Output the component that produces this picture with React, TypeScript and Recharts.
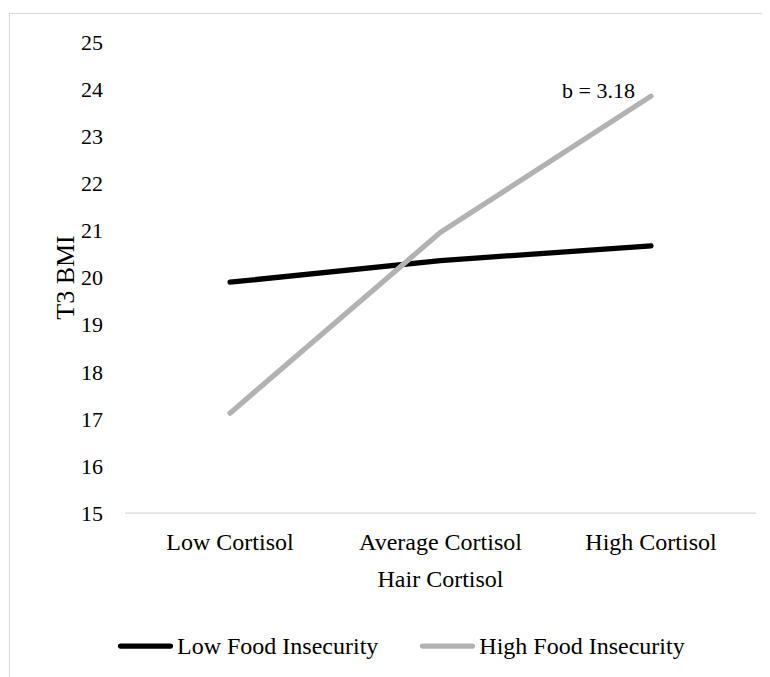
import React from 'react';
import { LineChart, Line, XAxis, YAxis, Legend, LabelList } from 'recharts';

const categories = ['Low Cortisol', 'Average Cortisol', 'High Cortisol'];
const lowFoodInsecurity = [19.9, 20.36, 20.67];
const highFoodInsecurity = [17.12, 20.96, 23.85];
const yTicks = [15, 16, 17, 18, 19, 20, 21, 22, 23, 24, 25];
const slopeNote = 'b = 3.18';

const data = categories.map((c, i) => ({
  name: c,
  low: lowFoodInsecurity[i],
  high: highFoodInsecurity[i],
}));

const FONT = '"Liberation Serif", "Times New Roman", serif';
const GRAY = '#b2b2b2';

const legendItems = [
  { label: 'Low Food Insecurity', color: '#000000' },
  { label: 'High Food Insecurity', color: GRAY },
];

function LegendContent() {
  return (
    <div style={{ display: 'flex', alignItems: 'center', height: 30, paddingLeft: 108, fontFamily: FONT, fontSize: 24, color: '#000' }}>
      {legendItems.map((it, i) => (
        <div key={it.label} style={{ display: 'flex', alignItems: 'center', marginRight: i === 0 ? 42 : 0 }}>
          <svg width={55} height={10}>
            <line x1={2.5} y1={5} x2={52.5} y2={5} stroke={it.color} strokeWidth={5.25} strokeLinecap="round" />
          </svg>
          <span style={{ marginLeft: 4, whiteSpace: 'nowrap' }}>{it.label}</span>
        </div>
      ))}
    </div>
  );
}

const SlopeLabel = (props: any) => {
  const { x, y, index } = props;
  if (index !== categories.length - 1) return null;
  return (
    <text x={x - 16} y={y + 2} textAnchor="end" fontFamily={FONT} fontSize={22} fill="#000">
      {slopeNote}
    </text>
  );
};

export default function App() {
  return (
    <>
      <style>{'html, body { overflow: hidden; }'}</style>
      <div style={{ position: 'relative', top: 5, left: 1, width: 761, height: 680, overflow: 'hidden' }}>
        <div style={{ width: 800, height: 720, border: '1px solid #d9d9d9', position: 'relative' }}>
          <LineChart width={760} height={660} data={data} margin={{ top: 28, right: 14, left: 0, bottom: 91 }}>
            <XAxis
              dataKey="name"
              padding={{ left: 105, right: 105 }}
              axisLine={{ stroke: '#d9d9d9', strokeWidth: 1.25 }}
              tickLine={false}
              tickSize={6}
              tickMargin={14}
              height={40}
              tick={{ fill: '#000', fontSize: 24, fontFamily: FONT }}
              label={{ value: 'Hair Cortisol', position: 'bottom', offset: 17, fill: '#000', fontSize: 24, fontFamily: FONT }}
            />
            <YAxis
              domain={[15, 25]}
              ticks={yTicks}
              width={115}
              axisLine={false}
              tickLine={false}
              tickSize={6}
              tickMargin={16}
              tick={{ fill: '#000', fontSize: 22, fontFamily: FONT }}
              label={{ value: 'T3 BMI', angle: -90, position: 'insideLeft', offset: 55, fill: '#000', fontSize: 26, fontFamily: FONT, style: { textAnchor: 'middle' } }}
            />
            <Legend verticalAlign="bottom" height={30} wrapperStyle={{ top: 617, left: 0 }} content={<LegendContent />} />
            <Line type="linear" dataKey="low" name="Low Food Insecurity" stroke="#000000" strokeWidth={5.25} strokeLinecap="round" dot={false} activeDot={false} isAnimationActive={false} />
            <Line type="linear" dataKey="high" name="High Food Insecurity" stroke={GRAY} strokeWidth={5.25} strokeLinecap="round" dot={false} activeDot={false} isAnimationActive={false}>
              <LabelList dataKey="high" content={<SlopeLabel />} />
            </Line>
          </LineChart>
        </div>
      </div>
    </>
  );
}
